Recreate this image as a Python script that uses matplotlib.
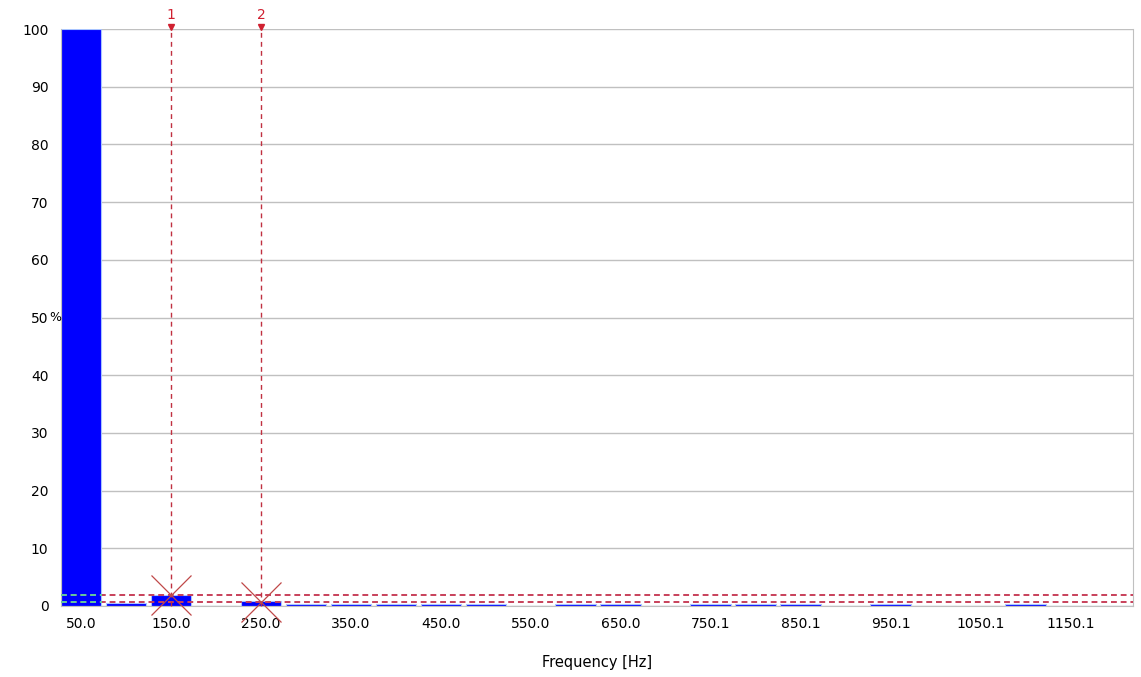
import matplotlib
matplotlib.use("Agg")
import matplotlib.pyplot as plt

# ---- data ----
freqs = [50, 100, 150, 200, 250, 300, 350, 400, 450, 500, 550, 600,
         650, 700, 750, 800, 850, 900, 950, 1000, 1050, 1100, 1150, 1200]
amplitudes = [100, 0.6, 1.9, 0.0, 0.8, 0.35, 0.3, 0.3, 0.3, 0.3, 0.0, 0.3,
              0.3, 0.0, 0.3, 0.3, 0.3, 0.0, 0.3, 0.0, 0.0, 0.3, 0.0, 0.0]
tick_positions = [50, 150, 250, 350, 450, 550, 650, 750, 850, 950, 1050, 1150]
tick_labels = ["50.0", "150.0", "250.0", "350.0", "450.0", "550.0", "650.0",
               "750.1", "850.1", "950.1", "1050.1", "1150.1"]
yticks = [0, 10, 20, 30, 40, 50, 60, 70, 80, 90, 100]
cursor_freqs = [150, 250]
cursor_values = [1.85, 0.75]
cursor_names = ["1", "2"]

plt.rcParams['font.family'] = ['DejaVu Sans']

fig = plt.figure(figsize=(11.41, 6.77), dpi=100)
ax = fig.add_axes([0.0535, 0.1049, 0.9395, 0.8521])

ax.set_xlim(27.8, 1219)
ax.set_ylim(0, 100)

# grid
ax.set_yticks(yticks)
ax.yaxis.grid(True, color="#c0c0c0", linewidth=1)
ax.set_axisbelow(True)

ax.bar(freqs, amplitudes, width=45.5, color="#0000ff", edgecolor="#a8c4ff",
       linewidth=0.8, zorder=2)

# cursor horizontal lines
for v in cursor_values:
    ax.axhline(v, color="#c8405a", linestyle=(0, (3, 2)), linewidth=1.4, zorder=3)
    ax.plot([27.8, 73], [v, v], color="#60c8a0", linestyle=(0, (3, 2)),
            linewidth=1.4, zorder=4)

# cursor vertical lines + markers
for f, v, n in zip(cursor_freqs, cursor_values, cursor_names):
    ax.plot([f, f], [0, 100.3], color="#c03040", linestyle=(0, (3.5, 3)),
            linewidth=1.0, zorder=3, clip_on=False)
    ax.plot([f], [v], marker="x", markersize=29, markeredgewidth=0.9,
            color="#c04848", zorder=5, clip_on=False)
    ax.plot([f], [100.3], marker="v", markersize=5, color="#d02030",
            clip_on=False, zorder=5)
    ax.text(f, 101.3, n, color="#d02030", ha="center", va="bottom",
            fontsize=10, clip_on=False)

for side in ["left", "right", "bottom", "top"]:
    ax.spines[side].set_color("#c0c0c0")
ax.spines["top"].set_visible(False)

ax.set_xticks(tick_positions)
ax.set_xticklabels(tick_labels)
ax.tick_params(axis="both", length=0, labelsize=10, colors="#000000")
ax.tick_params(axis="x", pad=8)
ax.tick_params(axis="y", pad=9)

ax.text(-0.0055, 50, "%", transform=ax.get_yaxis_transform(), ha="center",
        va="center", fontsize=9)

ax.set_xlabel("Frequency [Hz]", fontsize=10.5, labelpad=17)

fig.savefig("out.png", dpi=100)
